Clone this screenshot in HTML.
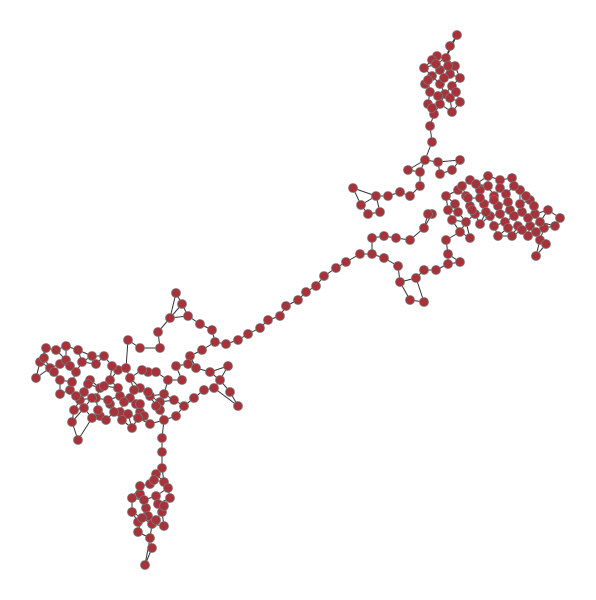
<!DOCTYPE html>
<html><head><meta charset="utf-8"><style>
html,body{margin:0;padding:0;background:#fff;}
svg{display:block;}
</style></head><body>
<svg id="chart" width="596" height="600" viewBox="0 0 596 600">
<g id="edges"></g>
<g id="nodes"></g>
</svg>
<script>
const nodeX = [457,450,437,446,432,455,424,440,450,432,460,425,440,452,430,445,460,428,440,452,434,430,432,
425,438,460,
408,420,440,452,470,488,500,512,458,466,480,494,506,520,530,446,455,470,484,498,510,522,535,548,560,475,490,505,518,530,544,555,498,512,528,540,546,536,420,410,432,448,460,470,446,
353,361,368,380,376,388,400,372,384,396,410,424,372,384,398,416,424,436,448,460,400,410,424,448,428,360,346,336,324,
316,306,298,286,280,268,260,248,238,226,
176,182,170,188,200,212,215,202,190,158,140,160,128,196,210,228,220,230,238,214,204,194,184,176,164,150,132,120,110,96,84,70,60,50,40,36,46,66,78,92,104,118,130,140,150,160,168,148,176,110,90,76,100,120,136,80,74,72,78,100,130,60,140,160,174,188,182,44,56,
162,162,162,156,164,150,140,156,170,132,146,162,138,152,164,138,150,152,145,
/* extra dense nodes */
436,448,428,444,456,438,450,432,
462,476,488,500,514,526,468,480,494,508,520,534,458,472,486,500,514,528,540,452,466,480,494,508,522,536,
66,82,96,112,126,142,156,72,88,104,118,134,148,164,60,76,92,108,124,140,156,84,98,114,128,144,92,106,122,138,54,70,
140,154,168,144,158,132,148,164,142,156];
const nodeY = [35,46,56,58,60,66,68,70,74,76,78,84,84,86,92,94,102,104,104,112,114,126,142,
160,162,160,
170,172,174,170,180,176,180,178,190,196,190,196,194,190,200,196,204,206,204,206,210,212,214,210,218,214,216,222,226,226,228,226,236,236,236,240,244,256,186,196,214,210,232,238,240,
188,205,214,212,196,196,192,238,236,238,240,228,254,258,266,278,270,270,264,262,282,300,302,254,214,254,262,268,276,
286,292,300,306,316,320,328,334,340,344,
293,304,318,316,324,330,342,350,356,332,348,348,340,368,372,366,380,392,406,388,390,398,406,416,420,424,428,412,404,398,392,390,380,368,362,378,348,346,350,356,356,370,378,388,396,402,380,372,366,380,380,372,388,396,404,400,410,422,440,416,398,364,412,410,400,364,380,358,350,
438,452,468,474,482,484,494,496,498,512,508,512,522,524,526,532,538,548,565,
/* extra dense nodes */
64,66,80,78,92,96,98,108,
186,184,186,188,186,196,198,198,200,202,204,206,212,210,212,214,216,218,222,220,222,224,226,228,230,232,
360,362,364,366,368,370,372,382,384,386,388,390,392,394,394,396,398,400,402,404,406,408,410,412,414,416,418,420,420,418,372,366,
486,480,488,500,504,498,516,506,518,520];

const eg = document.getElementById('edges'), ng = document.getElementById('nodes');
const NS = 'http://www.w3.org/2000/svg';
const n = Math.min(nodeX.length, nodeY.length);
const seen = new Set();
for (let i = 0; i < n; i++) {
  const d = [];
  for (let j = 0; j < n; j++) if (j !== i) d.push([Math.hypot(nodeX[i]-nodeX[j], nodeY[i]-nodeY[j]), j]);
  d.sort((a,b)=>a[0]-b[0]);
  for (let k = 0; k < 3; k++) {
    const j = d[k][1];
    if (k === 2 && d[k][0] > 16) continue;
    const key = Math.min(i,j)+'-'+Math.max(i,j);
    if (seen.has(key)) continue; seen.add(key);
    const l = document.createElementNS(NS,'line');
    l.setAttribute('x1',nodeX[i]); l.setAttribute('y1',nodeY[i]);
    l.setAttribute('x2',nodeX[j]); l.setAttribute('y2',nodeY[j]);
    l.setAttribute('stroke','#333'); l.setAttribute('stroke-width','1');
    
    
    eg.appendChild(l);
  }
}
for (let i = 0; i < n; i++) {
  const c = document.createElementNS(NS,'circle');
  c.setAttribute('cx',nodeX[i]); c.setAttribute('cy',nodeY[i]); c.setAttribute('r','4.5');
  c.setAttribute('fill','#a8323a'); c.setAttribute('stroke','#777'); c.setAttribute('stroke-width','0.8');
  
  
  ng.appendChild(c);
}
</script>
</body></html>
